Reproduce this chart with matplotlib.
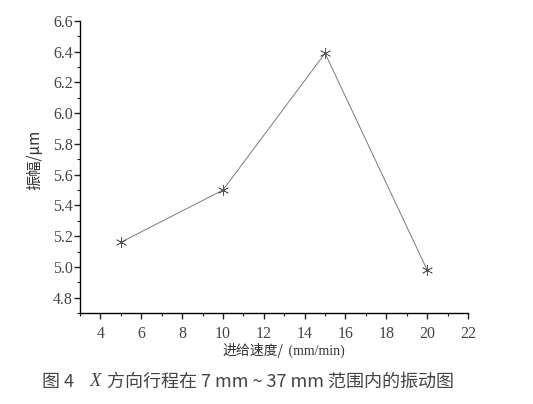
import numpy as np
import matplotlib
matplotlib.use("Agg")
import matplotlib.pyplot as plt
from matplotlib.ticker import MultipleLocator

# feed speed (mm/min) vs amplitude (um)
speed = [5, 10, 15, 20]
amplitude = [5.16, 5.50, 6.39, 4.98]
xticks = [4, 6, 8, 10, 12, 14, 16, 18, 20, 22]
yticks = [4.8, 5.0, 5.2, 5.4, 5.6, 5.8, 6.0, 6.2, 6.4, 6.6]

serif = ['Liberation Serif', 'DejaVu Serif']
cjk = ['Noto Sans CJK SC', 'DejaVu Sans']

fig = plt.figure(figsize=(5.33, 4.04), dpi=100)
ax = fig.add_axes([80/533, 1-313/404, (468-80)/533, (313-21)/404])

ax.plot(speed, amplitude, color='#666666', lw=0.6,
        marker=(6, 2, 0), ms=8, mew=0.5, mec='#555555')

ax.set_xlim(3, 22)
ax.set_ylim(4.7, 6.6)
ax.set_xticks(xticks)
ax.set_yticks(yticks)
ax.xaxis.set_minor_locator(MultipleLocator(1))
ax.yaxis.set_minor_locator(MultipleLocator(0.1))
ax.spines['top'].set_visible(False)
ax.spines['right'].set_visible(False)
for s in ['left', 'bottom']:
    ax.spines[s].set_linewidth(1.0)
ax.tick_params(which='major', direction='out', length=4, width=1, colors='#222222',
               labelsize=11.5, labelcolor='#444444', pad=1)
ax.tick_params(which='minor', direction='out', length=2.5, width=0.8, colors='#222222')
ax.xaxis.set_tick_params(pad=5)
ax.set_xticklabels([str(v) for v in xticks], family=serif)
ax.set_yticklabels(['%.1f' % v for v in yticks], family=serif)

fig.text(35/533, 1-160/404, '振幅/μm', rotation=90, ha='center', va='center',
         fontsize=11, family=cjk, color='#333333')
fig.text(222/533, 1-351/404, '进给速度/', ha='left', va='center',
         fontsize=10, family=cjk, color='#333333')
fig.text(285/533, 1-351/404, ' (mm/min)', ha='left', va='center',
         fontsize=10, family=serif, color='#333333')

# caption
fig.text(42/533, 1-382/404, '图 4', ha='left', va='center', fontsize=13,
         family=cjk, color='#444444')
fig.text(90/533, 1-382/404, 'X', ha='left', va='center', fontsize=13.5,
         family=serif, style='italic', color='#444444')
fig.text(107/533, 1-382/404, '方向行程在 7 mm ~ 37 mm 范围内的振动图', ha='left',
         va='center', fontsize=13, family=cjk, color='#444444')

fig.savefig('out.png', dpi=100)
